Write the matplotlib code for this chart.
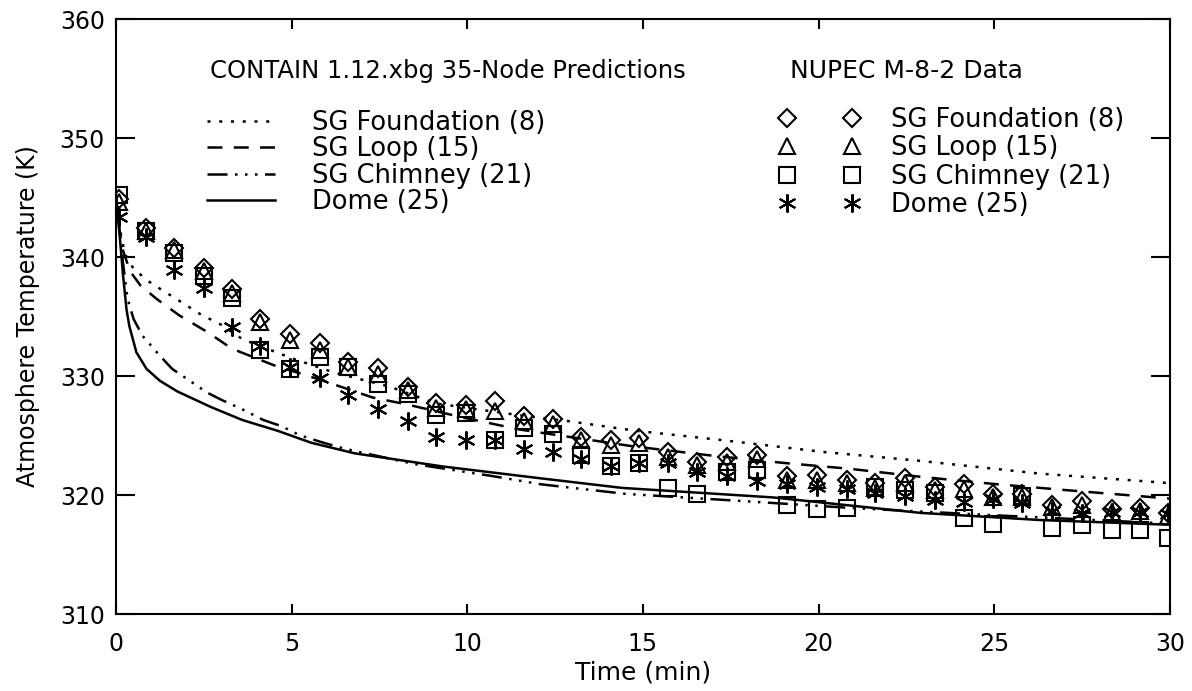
import matplotlib
matplotlib.use("Agg")
from matplotlib import pyplot as plt

# ---- CONTAIN 1.12.xbg 35-node predictions (time in min, temperature in K)
found_t = [0, 0.1, 0.25, 0.5, 1.0, 1.6, 2.4, 3.0, 3.6, 5.0, 6.2, 7.8, 9.1, 11.5,
           12.9, 14.8, 17.3, 20.2, 22.8, 26.3, 30]
found_T = [345.0, 342.5, 340.3, 339.0, 337.8, 336.7, 335.2, 334.3, 333.1, 331.5,
           330.3, 329.1, 327.7, 326.7, 326.2, 325.4, 324.6, 323.6, 322.9, 321.8, 321.0]

loop_t = [0, 0.15, 0.4, 0.7, 1.15, 1.8, 2.6, 3.3, 4.5, 5.8, 7.3, 8.3, 9.9, 11.5,
          13.1, 14.7, 17.0, 19.0, 20.9, 23.0, 25.1, 27.5, 30]
loop_T = [345.0, 341.0, 338.8, 337.6, 336.5, 335.1, 333.7, 332.3, 330.9, 329.7,
          328.2, 327.6, 326.5, 325.5, 324.8, 324.1, 323.3, 322.7, 322.2, 321.5,
          320.9, 320.3, 319.7]

chim_t = [0, 0.1, 0.2, 0.33, 0.5, 0.75, 1.25, 1.6, 2.1, 2.6, 3.0, 3.6, 4.2, 4.7,
          5.25, 5.9, 6.5, 8.5, 10.7, 12.1, 14.5, 17.8, 21.0, 25.0, 30]
chim_T = [345.0, 342.5, 339.5, 336.5, 334.8, 333.4, 331.7, 330.6, 329.6, 328.6,
          328.0, 327.2, 326.3, 325.8, 325.0, 324.4, 323.9, 322.6, 321.6, 320.9,
          320.1, 319.5, 318.9, 318.3, 317.6]

dome_t = [0, 0.1, 0.2, 0.3, 0.38, 0.58, 0.87, 1.25, 1.75, 2.7, 3.6, 4.6, 5.55,
          6.8, 9.3, 12.1, 14.4, 18.7, 22.9, 26.3, 30]
dome_T = [345.0, 342.0, 338.5, 335.6, 334.2, 332.0, 330.6, 329.6, 328.7, 327.4,
          326.3, 325.4, 324.4, 323.5, 322.4, 321.4, 320.6, 319.8, 318.5, 317.9, 317.5]

# ---- NUPEC M-8-2 data
data_t = [0.1, 0.85, 1.65, 2.5, 3.3, 4.1, 4.95, 5.8, 6.6, 7.45, 8.3, 9.1, 9.95, 10.8,
          11.6, 12.45, 13.25, 14.1, 14.9, 15.7, 16.55, 17.4, 18.25, 19.1, 19.95, 20.8,
          21.6, 22.45, 23.3, 24.15, 24.95, 25.8, 26.65, 27.5, 28.35, 29.15, 29.95]
found_data = [344.9, 342.4, 340.8, 339.1, 337.3, 334.8, 333.5, 332.8, 331.2, 330.7,
              329.1, 327.7, 327.6, 327.9, 326.6, 326.4, 324.9, 324.6, 324.8, 323.6,
              322.8, 323.2, 323.4, 321.6, 321.7, 321.3, 321.0, 321.4, 320.7, 320.9,
              320.1, 320.1, 319.2, 319.5, 318.8, 318.9, 318.5]
loop_data = [344.6, 342.2, 340.6, 338.8, 337.0, 334.5, 333.0, 332.2, 330.8, 330.2,
             328.8, 327.3, 327.2, 327.1, 326.2, 326.0, 324.6, 324.2, 324.4, 323.2,
             322.5, 322.8, 323.0, 321.3, 321.3, 321.0, 320.6, 321.0, 320.4, 320.5,
             319.8, 319.8, 319.0, 319.2, 318.6, 318.7, 318.2]
chim_data = [345.2, 342.2, 340.3, 338.4, 336.6, 332.2, 330.6, 331.6, 330.8, 329.3,
             328.5, 326.7, 326.9, 324.6, 325.6, 325.1, 323.4, 322.4, 322.7, 320.6,
             320.1, 321.9, 322.1, 319.2, 318.8, 318.9, 320.7, 320.4, 320.2, 318.1,
             317.6, 319.9, 317.2, 317.5, 317.1, 317.1, 316.4]
dome_data = [343.4, 341.7, 338.9, 337.4, 334.1, 332.5, 330.8, 329.8, 328.4, 327.2,
             326.2, 324.9, 324.6, 324.6, 323.9, 323.6, 323.0, 322.4, 322.7, 322.7,
             321.9, 321.6, 321.2, 320.9, 320.7, 320.5, 320.2, 319.9, 319.6, 319.4,
             319.7, 319.3, 318.7, 318.5, 318.6, 318.6, 318.4]

labels = ['SG Foundation (8)', 'SG Loop (15)', 'SG Chimney (21)', 'Dome (25)']

fig = plt.figure(figsize=(11.92, 6.91), dpi=100)
ax = fig.add_axes([0.0973, 0.1114, 0.8842, 0.861])

lw = 1.8
l1, = ax.plot(found_t, found_T, color='k', lw=lw, linestyle=(0, (1.2, 3.5)))
l2, = ax.plot(loop_t, loop_T, color='k', lw=lw, linestyle=(0, (6, 4.5)))
l3, = ax.plot(chim_t, chim_T, color='k', lw=lw,
              linestyle=(0, (8, 3, 1, 3, 1, 3, 1, 3)))
l4, = ax.plot(dome_t, dome_T, color='k', lw=lw)

mk = dict(color='k', linestyle='none', markerfacecolor='none',
          markeredgecolor='k', markeredgewidth=1.5)
p1, = ax.plot(data_t, found_data, marker='D', markersize=9, **mk)
p2, = ax.plot(data_t, loop_data, marker='^', markersize=11, **mk)
p3, = ax.plot(data_t, chim_data, marker='s', markersize=11, **mk)
p4, = ax.plot(data_t, dome_data, marker=(6, 2, 0), markersize=13, **mk)

ax.set_xlim(0, 30)
ax.set_ylim(310, 360)
ax.set_xticks(range(0, 31, 5))
ax.set_yticks(range(310, 361, 10))
ax.tick_params(direction='in', top=True, right=True, width=1.5, labelsize=17)
ax.tick_params(axis='y', length=14, pad=8)
ax.tick_params(axis='x', length=7, pad=13)
for s in ax.spines.values():
    s.set_linewidth(1.5)

ax.set_xlabel('Time (min)', fontsize=18, labelpad=3)
ax.set_ylabel('Atmosphere Temperature (K)', fontsize=17, labelpad=14)

# legends
leg1 = ax.legend([l1, l2, l3, l4], labels, loc='upper left',
                 bbox_to_anchor=(0.0863, 0.848), frameon=False, fontsize=18.5,
                 handlelength=2.65, handletextpad=1.45, labelspacing=0.02,
                 borderpad=0, borderaxespad=0)
ax.add_artist(leg1)
ax.legend([p1, p2, p3, p4], labels, loc='upper left', numpoints=2,
          bbox_to_anchor=(0.629, 0.853), frameon=False, fontsize=18.5,
          handlelength=3.15, handletextpad=1.2, labelspacing=0.1,
          borderpad=0, borderaxespad=0)

ax.text(0.0892, 0.9126, 'CONTAIN 1.12.xbg 35-Node Predictions', fontsize=17.5,
        transform=ax.transAxes, va='center', ha='left')
ax.text(0.6395, 0.9126, 'NUPEC M-8-2 Data', fontsize=18,
        transform=ax.transAxes, va='center', ha='left')

fig.savefig('out.png', dpi=100)
